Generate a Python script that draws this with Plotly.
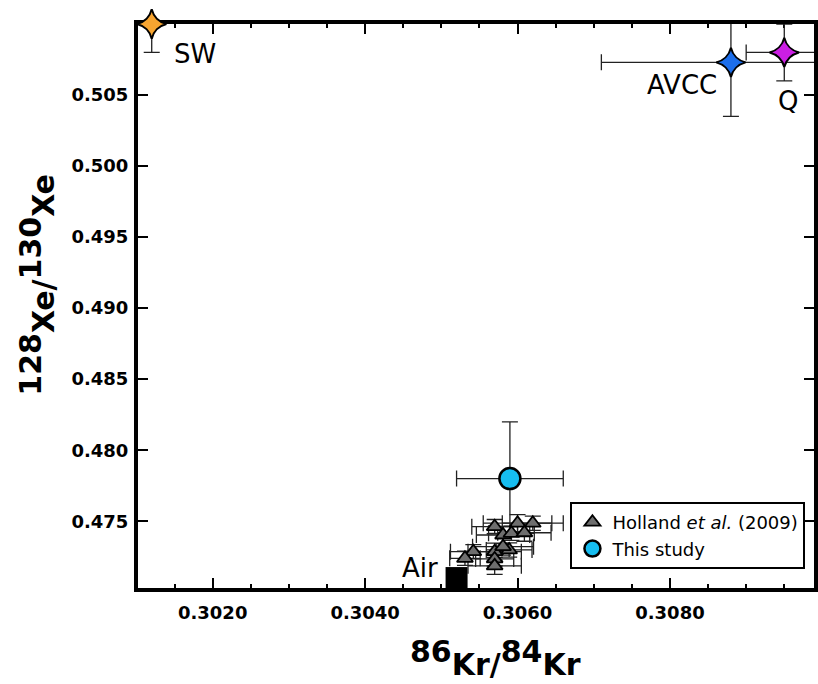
import plotly.graph_objects as go

# Reference compositions drawn as stars
comp_names = ["SW", "AVCC", "Q"]
comp_kr = [0.3012, 0.3088, 0.3095]
comp_kr_err = [0.0, 0.0017, 0.0005]
comp_xe = [0.5100, 0.5073, 0.5080]
comp_xe_err = [0.0020, 0.0038, 0.0020]
comp_colors = ["#F7A531", "#1C6EEB", "#CB1FE3"]

# Atmosphere
air_kr = [0.3052]
air_xe = [0.4710]

# This study
study_kr = [0.3059]
study_kr_err = [0.0007]
study_xe = [0.4780]
study_xe_err = [0.0040]

# Holland et al. (2009)
holland_kr = [0.30570, 0.30600, 0.30620, 0.30581, 0.30592, 0.30609, 0.30542,
              0.30531, 0.30570, 0.30589, 0.30581, 0.30570, 0.30570]
holland_kr_err = [0.00030, 0.00045, 0.00040, 0.00035, 0.00030, 0.00035, 0.00030,
                  0.00020, 0.00035, 0.00030, 0.00040, 0.00025, 0.00035]
holland_xe = [0.47462, 0.47486, 0.47486, 0.47403, 0.47415, 0.47419, 0.47286,
              0.47239, 0.47286, 0.47298, 0.47321, 0.47235, 0.47186]
holland_xe_err = [0.0005, 0.0006, 0.0005, 0.0006, 0.0005, 0.0006, 0.0005,
                  0.0005, 0.0006, 0.0005, 0.0006, 0.0005, 0.0006]

# Axis ticks
x_range = [0.30102, 0.30989]
y_range = [0.4703, 0.5100]
x_label_vals = [0.302, 0.304, 0.306, 0.308]
x_label_text = ["0.3020", "0.3040", "0.3060", "0.3080"]
x_plain_vals = [0.303, 0.305, 0.307, 0.309]
y_tickvals = [0.475, 0.480, 0.485, 0.490, 0.495, 0.500, 0.505]
y_ticktext = ["%.3f" % v for v in y_tickvals]

FONT = "DejaVu Sans"
ERR = dict(type="data", color="#222222", thickness=1.3, width=8)

fig = go.Figure()

# error bars of the reference compositions (clipped to the frame)
fig.add_trace(go.Scatter(
    x=comp_kr, y=comp_xe, mode="markers",
    marker=dict(size=1, color="rgba(0,0,0,0)"),
    error_x=dict(array=comp_kr_err, **ERR),
    error_y=dict(array=comp_xe_err, **ERR),
    showlegend=False, hoverinfo="skip", cliponaxis=True))

# star markers
fig.add_trace(go.Scatter(
    x=comp_kr, y=comp_xe, mode="markers",
    marker=dict(symbol="star-diamond", size=21, color=comp_colors,
                line=dict(color="black", width=2)),
    showlegend=False, cliponaxis=False))

# air
fig.add_trace(go.Scatter(
    x=air_kr, y=air_xe, mode="markers",
    marker=dict(symbol="square", size=22, color="black",
                line=dict(color="black", width=0)),
    showlegend=False, cliponaxis=False))

# this study
fig.add_trace(go.Scatter(
    x=study_kr, y=study_xe, mode="markers", name="This study",
    marker=dict(symbol="circle", size=21, color="#16BDF0",
                line=dict(color="black", width=2.5)),
    error_x=dict(array=study_kr_err, **ERR),
    error_y=dict(array=study_xe_err, **ERR),
    legendrank=2, cliponaxis=False))

# Holland et al. (2009)
fig.add_trace(go.Scatter(
    x=holland_kr, y=holland_xe, mode="markers",
    name="Holland <i>et al.</i> (2009)",
    marker=dict(symbol="triangle-up", size=14, color="#6E6E6E",
                line=dict(color="black", width=1.8)),
    error_x=dict(array=holland_kr_err, **ERR),
    error_y=dict(array=holland_xe_err, **ERR),
    legendrank=1, cliponaxis=False))

# point labels: (right, down) pixel offsets from the marker
label_shift = {"SW": (43, 30), "AVCC": (-49, 23), "Q": (4, 49)}
for name, kx, xe in zip(comp_names, comp_kr, comp_xe):
    dx, dy = label_shift[name]
    fig.add_annotation(x=kx, y=xe, text=name, showarrow=False,
                       xshift=dx, yshift=-dy,
                       font=dict(family=FONT, size=26, color="black"))
fig.add_annotation(x=air_kr[0], y=air_xe[0], text="Air", showarrow=False,
                   xshift=-37, yshift=10,
                   font=dict(family=FONT, size=26, color="black"))

# axis titles
big = '<sup><span style="font-size:30px">%s</span></sup>'
fig.add_annotation(xref="paper", yref="paper", x=0.529, y=-0.124,
                   text=(big % "86") + "Kr/" + (big % "84") + "Kr",
                   showarrow=False, xanchor="center", yanchor="middle",
                   font=dict(family=FONT, size=30, color="black", weight="bold"))
fig.add_annotation(xref="paper", yref="paper", x=-0.1485, y=0.537,
                   text=(big % "128") + "Xe/" + (big % "130") + "Xe",
                   textangle=-90, showarrow=False,
                   xanchor="center", yanchor="middle",
                   font=dict(family=FONT, size=30, color="black", weight="bold"))

tick_style = dict(ticks="inside", ticklen=10, tickwidth=2, tickcolor="black",
                  showgrid=False, zeroline=False, layer="below traces")
axis_common = dict(showline=True, linewidth=4, linecolor="black", mirror="ticks",
                   tickfont=dict(family=FONT, size=18, color="black", weight="bold"),
                   **tick_style)

fig.update_layout(
    width=818, height=684,
    margin=dict(l=138, r=0, t=24, b=96),
    paper_bgcolor="white", plot_bgcolor="white",
    showlegend=True,
    xaxis=dict(range=x_range, tickvals=x_label_vals, ticktext=x_label_text,
               minor=dict(ticks="inside", ticklen=4, tickwidth=2, tickcolor="black",
                          dtick=0.0005, tick0=0.3),
               ticklabelstandoff=5, **axis_common),
    # unlabelled long ticks between the labelled ones
    xaxis2=dict(range=x_range, overlaying="x", anchor="y", side="bottom",
                tickvals=x_plain_vals, showticklabels=False, showline=False,
                mirror="ticks", **tick_style),
    yaxis=dict(range=y_range, tickvals=y_tickvals, ticktext=y_ticktext,
               ticklabelstandoff=2, **axis_common),
    legend=dict(x=0.6397, y=0.1525, xanchor="left", yanchor="top",
                bordercolor="black", borderwidth=2, bgcolor="white",
                font=dict(family=FONT, size=18, color="black"),
                tracegroupgap=0, itemwidth=30),
)

fig.write_html("out.html")
